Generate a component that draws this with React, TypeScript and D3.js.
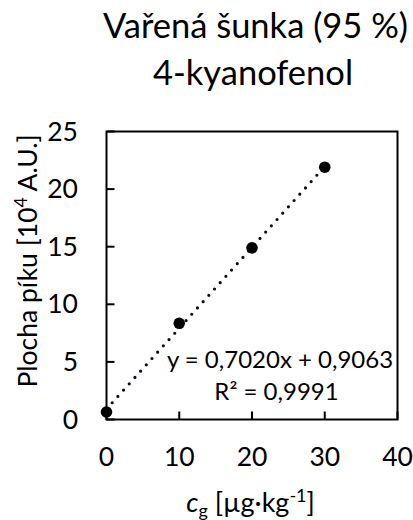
import React from "react";
import * as d3 from "d3";

const titleLines = ["Vařená šunka (95 %)", "4-kyanofenol"];
const xValues = [0, 10, 20, 30];
const yValues = [0.65, 8.35, 14.9, 21.9];
const xTicks = [0, 10, 20, 30, 40];
const yTicks = [0, 5, 10, 15, 20, 25];
const slope = 0.702;
const intercept = 0.9063;
const eqLines = ["y = 0,7020x + 0,9063", "R² = 0,9991"];

const W = 413;
const H = 520;
const FONT = "Lato, 'Open Sans', sans-serif";

export default function App() {
  const x = d3.scaleLinear().domain([0, 40]).range([106.5, 397.5]);
  const y = d3.scaleLinear().domain([0, 25]).range([419.5, 131.5]);
  const trend = d3
    .line<number>()
    .x((d) => x(d))
    .y((d) => y(slope * d + intercept));
  const tickLen = 8;
  return (
    <svg
      width={W}
      height={H}
      style={{ position: "absolute", left: 0, top: 0, background: "#fff" }}
      fontFamily={FONT}
    >
      <rect x={0} y={0} width={W} height={H} fill="#fff" />
      {/* title */}
      <text x={255.5} y={38} textAnchor="middle" fontSize={34.5} fill="#000">
        {titleLines[0]}
      </text>
      <text x={253} y={85} textAnchor="middle" fontSize={34.5} fill="#000">
        {titleLines[1]}
      </text>
      {/* frame */}
      <rect
        x={x(0)}
        y={y(25)}
        width={x(40) - x(0)}
        height={y(0) - y(25)}
        fill="none"
        stroke="#000"
        strokeWidth={2}
      />
      {/* y ticks */}
      {yTicks.map((t) => (
        <g key={"y" + t}>
          <line x1={x(0)} x2={x(0) + tickLen} y1={y(t)} y2={y(t)} stroke="#000" strokeWidth={2} />
          <text x={78} y={y(t) + 9} textAnchor="end" fontSize={26.5} fill="#000">
            {t}
          </text>
        </g>
      ))}
      {/* x ticks */}
      {xTicks.map((t) => (
        <g key={"x" + t}>
          <line x1={x(t)} x2={x(t)} y1={y(0)} y2={y(0) - tickLen} stroke="#000" strokeWidth={2} />
          <text x={x(t)} y={466} textAnchor="middle" fontSize={26.5} fill="#000">
            {t}
          </text>
        </g>
      ))}
      {/* trendline */}
      <path
        d={trend([0, 30]) || ""}
        fill="none"
        stroke="#0d0d1a"
        strokeWidth={3.2}
        strokeLinecap="round"
        strokeDasharray="0 8.5"
      />
      {/* points */}
      {xValues.map((v, i) => (
        <circle key={i} cx={x(v)} cy={y(yValues[i])} r={5.8} fill="#000" />
      ))}
      {/* equation */}
      <text x={280} y={368} textAnchor="middle" fontSize={24} fill="#000">
        {eqLines[0]}
      </text>
      <text x={276.5} y={400} textAnchor="middle" fontSize={24} fill="#000">
        {eqLines[1]}
      </text>
      {/* y axis title */}
      <text
        transform={`translate(37, 261) rotate(-90)`}
        textAnchor="middle"
        fontSize={26.5}
        fill="#000"
      >
        Plocha píku [10
        <tspan dy={-10} fontSize={17.5}>4</tspan>
        <tspan dy={10}> A.U.]</tspan>
      </text>
      {/* x axis title */}
      <text x={250.5} y={512} textAnchor="middle" fontSize={27} fill="#000">
        <tspan fontStyle="italic">c</tspan>
        <tspan dy={5} fontSize={18}>g</tspan>
        <tspan dy={-5}> [µg·kg</tspan>
        <tspan dy={-10} fontSize={18}>-1</tspan>
        <tspan dy={10}>]</tspan>
      </text>
    </svg>
  );
}
